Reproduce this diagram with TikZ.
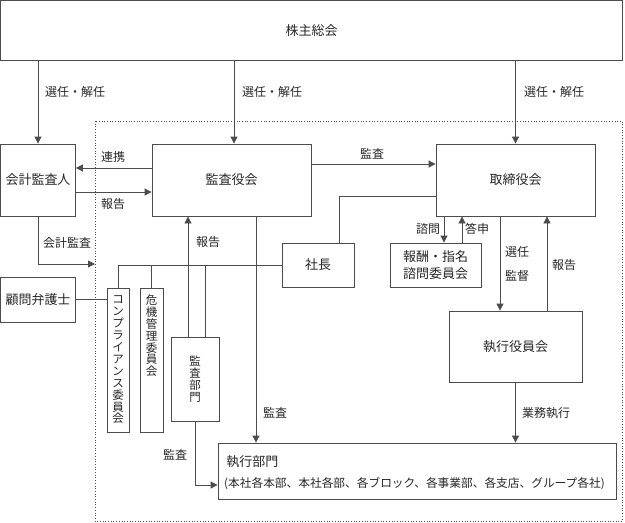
\documentclass[tikz,border=0pt]{standalone}
\usepackage{fontspec}
\setmainfont{Noto Sans CJK JP}
\usetikzlibrary{arrows.meta}
\newcommand\myvtfont{\fontsize{11.5}{11.9}\selectfont\lineskiplimit=-20pt\relax}
\begin{document}
\begin{tikzpicture}[x=1pt,y=-1pt,
  bx/.style={draw=black!70,line width=0.8pt,inner sep=0pt,text=black!85,font=\fontsize{13}{17}\selectfont,align=center},
  lbl/.style={text=black!85,font=\fontsize{12}{14}\selectfont,inner sep=0pt},
  con/.style={draw=black!70,line width=0.8pt},
  arr/.style={con,-{Triangle[length=7pt,width=7pt]}},
  vt/.style={font=\myvtfont,align=center,inner sep=0pt,text=black!85},
]
\useasboundingbox (0,0) rectangle (625,523);
% frame
\draw[black!70,dotted,line width=0.7pt] (95,121) rectangle (622,521);
% boxes
\node[bx,minimum width=622pt,minimum height=60pt] (soukai) at (311.5,30.5) {株主総会};
\node[bx,minimum width=75pt,minimum height=72pt] (kaikei) at (38,180) {会計監査人};
\node[bx,minimum width=159pt,minimum height=72pt] (kansayaku) at (231.5,180) {監査役会};
\node[bx,minimum width=159pt,minimum height=72pt] (torishimari) at (515.5,180) {取締役会};
\node[bx,minimum width=72pt,minimum height=44pt] (shacho) at (318,265) {社長};
\node[bx,minimum width=91pt,minimum height=44pt] (houshu) at (435.5,265) {報酬・指名\\諮問委員会};
\node[bx,minimum width=133pt,minimum height=71pt] (yakuin) at (515.5,346.5) {執行役員会};
\node[bx,minimum width=398pt,minimum height=56pt] (bumon) at (417,471) {};
\node[bx,minimum width=48pt,minimum height=84pt] (kansabumon) at (195,379) {};
\node[bx,minimum width=22pt,minimum height=144pt] (comp) at (118,360) {};
\node[bx,minimum width=23pt,minimum height=144pt] (kiki) at (151.5,360) {};
\node[bx,minimum width=75pt,minimum height=45pt] (komon) at (38,299.5) {顧問弁護士};
% texts inside
\node[bx,draw=none,anchor=west] (bumonA) at (226,462) {執行部門};
\node[lbl,anchor=west,font=\fontsize{11.7}{14}\selectfont] (bumonB) at (224,484) {(本社各本部、本社各部、各ブロック、各事業部、各支店、グループ各社)};
\node[vt] (kansabumonT) at (kansabumon.center) {監\\査\\部\\門};
\node[vt] (compT) at (comp.center) {コ\\ン\\プ\\ラ\\イ\\ア\\ン\\ス\\委\\員\\会};
\node[vt,anchor=north] (kikiT) at ([yshift=-7pt]kiki.north) {危\\機\\管\\理\\委\\員\\会};
% arrows from shareholders
\draw[arr] (soukai.south -| kaikei.north) -- (kaikei.north);
\draw[arr] ([xshift=2.5pt]kansayaku.north |- soukai.south) -- ([xshift=2.5pt]kansayaku.north);
\draw[arr] (soukai.south -| torishimari.north) -- (torishimari.north);
\node[lbl,anchor=west] (l1) at (45,92) {選任・解任};
\node[lbl,anchor=west] (l2) at (242,92) {選任・解任};
\node[lbl,anchor=west] (l3) at (524,92) {選任・解任};
% auditor links
\draw[arr] ([yshift=12pt]kansayaku.west) -- ([yshift=12pt]kaikei.east);
\draw[arr] ([yshift=-12pt]kaikei.east) -- ([yshift=-12pt]kansayaku.west);
\node[lbl] (l4) at (113,157) {連携};
\node[lbl] (l5) at (113,204) {報告};
\coordinate (kd) at (95,264);
\draw[arr] (kaikei.south) |- (kd);
\node[lbl] (l6) at (67,243) {会計監査};
% audit board to board
\draw[arr] ([yshift=16pt]kansayaku.east) -- ([yshift=16pt]torishimari.west);
\node[lbl] (l7) at (372,154) {監査};
% president
\draw[con] ([xshift=21pt]shacho.north) |- ([yshift=-16pt]torishimari.west);
% advisory committee
\draw[arr] ([xshift=8.5pt]houshu.north |- torishimari.south) -- ([xshift=8.5pt]houshu.north);
\draw[arr] ([xshift=26.5pt]houshu.north) -- ([xshift=26.5pt]houshu.north |- torishimari.south);
\node[lbl] (l8) at (428,229) {諮問};
\node[lbl] (l9) at (477,229) {答申};
% board to executive officers
\draw[arr] ([xshift=-15.5pt]torishimari.south) -- ([xshift=-15.5pt]yakuin.north);
\draw[arr] ([xshift=31.5pt]yakuin.north) -- ([xshift=31.5pt]torishimari.south);
\node[lbl] (l10) at (517,252) {選任};
\node[lbl] (l11) at (517,276) {監督};
\node[lbl] (l12) at (564,265) {報告};
\draw[arr] (yakuin.south) -- (yakuin.south |- bumon.north);
\node[lbl] (l13) at (546,413) {業務執行};
% audit board to execution
\draw[arr] ([xshift=24.5pt]kansayaku.south) -- ([xshift=24.5pt]kansayaku.south |- bumon.north);
\node[lbl] (l14) at (275,413) {監査};
% internal audit
\draw[arr] ([xshift=-7pt]kansabumon.north) -- ([xshift=-7pt]kansabumon.north |- kansayaku.south);
\node[lbl] (l15) at (208,242) {報告};
\draw[arr] (kansabumon.south) |- ([yshift=-14pt]bumon.west);
\node[lbl] (l16) at (175,455) {監査};
% president line to committees
\draw[con] (shacho.west) -| (comp.north);
\draw[con] (kiki.north) -- (kiki.north |- shacho.west);
\draw[con] ([xshift=10pt]kansabumon.north) -- ([xshift=10pt]kansabumon.north |- shacho.west);
% lawyer
\draw[con] (komon.east) -- (comp.west |- komon.east);
\end{tikzpicture}
\end{document}
